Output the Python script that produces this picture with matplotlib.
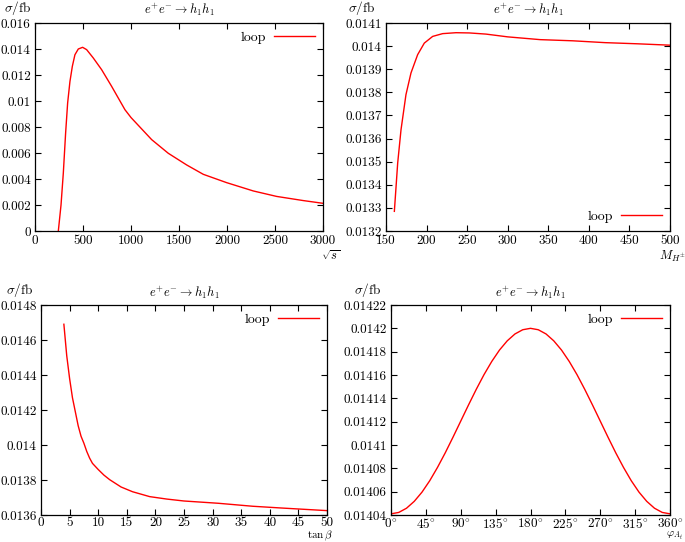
import matplotlib
matplotlib.use("Agg")
import matplotlib.pyplot as plt

plt.rcParams['font.family'] = 'serif'
plt.rcParams['font.serif'] = ['cmr10', 'DejaVu Serif']
plt.rcParams['mathtext.fontset'] = 'cm'
plt.rcParams['axes.formatter.use_mathtext'] = True

# ---- data ----
sqrts = [243, 271, 295, 319, 340, 364, 389, 416, 451, 496, 538, 607, 694, 798, 937, 1001,
         1215, 1388, 1580, 1753, 1996, 2274, 2517, 2795, 3000]
sigma_sqrts = [0.0, 0.0020, 0.00446, 0.00754, 0.00985, 0.0115, 0.01267, 0.01356, 0.0140,
               0.01413, 0.01395, 0.01331, 0.01241, 0.01113, 0.00933, 0.00872, 0.00703,
               0.00598, 0.00508, 0.00436, 0.00372, 0.00308, 0.00266, 0.00234, 0.00213]

mh = [160.3, 164.4, 168.5, 174.6, 180.8, 189, 197.2, 207.5, 219.8, 236.3, 252.7, 273.2,
      300, 340, 380, 420, 460, 500]
sigma_mh = [0.013285, 0.013494, 0.013638, 0.01379, 0.013884, 0.013963, 0.014013, 0.014042,
            0.014054, 0.014058, 0.014057, 0.014052, 0.01404, 0.014028, 0.014023, 0.014015,
            0.01401, 0.014004]

tanb = [4, 4.5, 5, 5.5, 6, 6.5, 7, 7.5, 8, 8.5, 9, 10, 11, 12, 14, 16, 19, 22, 25, 31, 37, 42, 50]
sigma_tanb = [0.01469, 0.01451, 0.01438, 0.01427, 0.01419, 0.01411, 0.01405, 0.01401,
              0.013963, 0.013925, 0.013895, 0.01386, 0.013828, 0.013802, 0.01376, 0.013733,
              0.013705, 0.013691, 0.01368, 0.013667, 0.01365, 0.01364, 0.013625]

phi = [0, 10, 20, 30, 40, 50, 60, 70, 80, 90, 100, 110, 120, 130, 140, 150, 160, 170, 180,
       190, 200, 210, 220, 230, 240, 250, 260, 270, 280, 290, 300, 310, 320, 330, 340, 350, 360]
sigma_phi = [0.014041, 0.0140422, 0.0140458, 0.0140517, 0.0140596, 0.0140694, 0.0140808,
             0.0140933, 0.0141067, 0.0141205, 0.0141343, 0.0141477, 0.0141603, 0.0141716,
             0.0141814, 0.0141893, 0.0141952, 0.0141988, 0.01420,
             0.0141988, 0.0141952, 0.0141893, 0.0141814, 0.0141716, 0.0141603, 0.0141477,
             0.0141343, 0.0141205, 0.0141067, 0.0140933, 0.0140808, 0.0140694, 0.0140596,
             0.0140517, 0.0140458, 0.0140422, 0.014041]

yt1 = [0, 0.002, 0.004, 0.006, 0.008, 0.01, 0.012, 0.014, 0.016]
yl1 = ['0', '0.002', '0.004', '0.006', '0.008', '0.01', '0.012', '0.014', '0.016']
xt1 = [0, 500, 1000, 1500, 2000, 2500, 3000]
yt2 = [0.0132, 0.0133, 0.0134, 0.0135, 0.0136, 0.0137, 0.0138, 0.0139, 0.014, 0.0141]
yl2 = ['0.0132', '0.0133', '0.0134', '0.0135', '0.0136', '0.0137', '0.0138', '0.0139', '0.014', '0.0141']
xt2 = [150, 200, 250, 300, 350, 400, 450, 500]
yt3 = [0.0136, 0.0138, 0.014, 0.0142, 0.0144, 0.0146, 0.0148]
yl3 = ['0.0136', '0.0138', '0.014', '0.0142', '0.0144', '0.0146', '0.0148']
xt3 = [0, 5, 10, 15, 20, 25, 30, 35, 40, 45, 50]
yt4 = [0.01404, 0.01406, 0.01408, 0.0141, 0.01412, 0.01414, 0.01416, 0.01418, 0.0142, 0.01422]
yl4 = ['0.01404', '0.01406', '0.01408', '0.0141', '0.01412', '0.01414', '0.01416', '0.01418', '0.0142', '0.01422']
xt4 = [0, 45, 90, 135, 180, 225, 270, 315, 360]
xl4 = [r'$%d^{\circ}$' % v for v in xt4]

W, H = 685, 542
fig = plt.figure(figsize=(W / 100, H / 100), dpi=100)

def rect(l, t, r, b):
    return [l / W, 1 - b / H, (r - l) / W, (b - t) / H]

def ptext(x, y, s, ha='center', fs=9.5, va='center'):
    fig.text(x / W, 1 - y / H, s, ha=ha, va=va, fontsize=fs)

FS = 9.5

def style(ax, x, y, xt, xl, yt, yl, xlim, ylim, legloc, xpad=2.5):
    ax.plot(x, y, color='red', lw=1.0, label='loop')
    ax.set_xlim(*xlim)
    ax.set_ylim(*ylim)
    ax.set_xticks(xt)
    ax.set_xticklabels(xl, fontsize=FS)
    ax.set_yticks(yt)
    ax.set_yticklabels(yl, fontsize=FS)
    ax.tick_params(direction='in', top=True, right=True, length=4, width=0.8, pad=3)
    ax.tick_params(axis='x', pad=xpad)
    for s in ax.spines.values():
        s.set_linewidth(0.9)
    ax.legend(loc=legloc, frameon=False, markerfirst=False, fontsize=FS + 0.5,
              handlelength=2.9, borderaxespad=0.2, handletextpad=0.6)

ax1 = fig.add_axes(rect(35, 23, 323, 231))
style(ax1, sqrts, sigma_sqrts, xt1, [str(v) for v in xt1], yt1, yl1, (0, 3000), (0, 0.016), 'upper right')
ax2 = fig.add_axes(rect(386, 23, 670, 231))
style(ax2, mh, sigma_mh, xt2, [str(v) for v in xt2], yt2, yl2, (150, 500), (0.0132, 0.0141), 'lower right')
ax3 = fig.add_axes(rect(41, 305, 327, 515))
style(ax3, tanb, sigma_tanb, xt3, [str(v) for v in xt3], yt3, yl3, (0, 50), (0.0136, 0.0148), 'upper right', xpad=1.5)
ax4 = fig.add_axes(rect(391, 305, 670, 515))
style(ax4, phi, sigma_phi, xt4, xl4, yt4, yl4, (0, 360), (0.01404, 0.01422), 'upper right', xpad=1.5)

title = r'$e^{+}e^{-}\rightarrow h_1h_1$'
sig = r'$\sigma/\mathrm{fb}$'
ptext(179, 10, title, fs=9)
ptext(528, 10, title, fs=9)
ptext(184, 293, title, fs=9)
ptext(530, 293, title, fs=9)
ptext(18, 8, sig)
ptext(362, 8, sig)
ptext(20, 290, sig)
ptext(368, 290, sig)
ptext(331, 256, r'$\sqrt{s}$', fs=9)
ptext(672, 256, r'$M_{H^{\pm}}$', fs=9)
ptext(320, 538, r'$\tan\beta$', fs=8, va='baseline')
ptext(674, 537, r'$\varphi_{A_t}$', fs=8, va='baseline')

fig.savefig('out.png', dpi=100)
